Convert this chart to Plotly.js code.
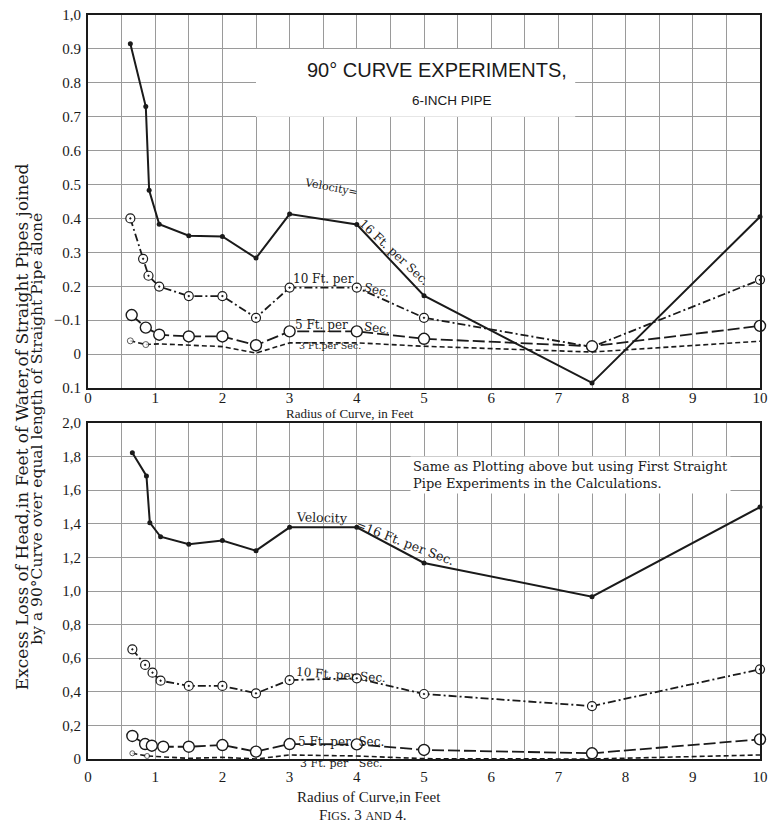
<!DOCTYPE html>
<html>
<head>
<meta charset="utf-8">
<script src="https://cdn.plot.ly/plotly-3.0.1.min.js"></script>
<style>html,body{margin:0;padding:0;background:#fff;}</style>
</head>
<body>
<div id="chart" style="width:771px;height:827px;"></div>
<script>
// ---- Top chart (Fig. 3) ----
const xTop16 = [0.63, 0.86, 0.91, 1.06, 1.5, 2, 2.5, 3, 4, 5, 7.5, 10];
const yTop16 = [0.915, 0.73, 0.483, 0.383, 0.349, 0.347, 0.283, 0.413, 0.382, 0.172, -0.085, 0.405];
const xTop10 = [0.63, 0.82, 0.9, 1.06, 1.5, 2, 2.5, 3, 4, 5, 7.5, 10];
const yTop10 = [0.40, 0.281, 0.231, 0.199, 0.171, 0.171, 0.107, 0.196, 0.196, 0.107, 0.021, 0.219];
const xTop5 = [0.65, 0.86, 1.06, 1.5, 2, 2.5, 3, 4, 5, 7.5, 10];
const yTop5 = [0.115, 0.078, 0.057, 0.052, 0.052, 0.026, 0.067, 0.067, 0.045, 0.023, 0.083];
const xTop3 = [0.63, 0.86, 1.06, 2, 2.5, 3, 4, 5, 7.5, 10];
const yTop3 = [0.039, 0.028, 0.03, 0.022, 0.003, 0.033, 0.033, 0.023, 0.006, 0.038];

// ---- Bottom chart (Fig. 4) ----
const xBot16 = [0.66, 0.87, 0.92, 1.08, 1.5, 2, 2.5, 3, 4, 5, 7.5, 10];
const yBot16 = [1.823, 1.685, 1.407, 1.323, 1.278, 1.30, 1.24, 1.379, 1.379, 1.167, 0.966, 1.5];
const xBot10 = [0.66, 0.85, 0.96, 1.08, 1.5, 2, 2.5, 3, 4, 5, 7.5, 10];
const yBot10 = [0.653, 0.56, 0.514, 0.466, 0.435, 0.435, 0.391, 0.47, 0.48, 0.387, 0.315, 0.534];
const xBot5 = [0.66, 0.85, 0.95, 1.12, 1.5, 2, 2.5, 3, 4, 5, 7.5, 10];
const yBot5 = [0.137, 0.089, 0.079, 0.073, 0.073, 0.083, 0.044, 0.089, 0.087, 0.054, 0.034, 0.117];
const xBot3 = [0.66, 0.88, 1.5, 2, 2.5, 3, 4, 5, 7.5, 10];
const yBot3 = [0.034, 0.018, 0.004, 0.01, 0.0, 0.024, 0.018, 0.002, 0.0, 0.024];

const xTickVals = [0,1,2,3,4,5,6,7,8,9,10];
const xTickText = ["0","1","2","3","4","5","6","7","8","9","10"];
const yTopTickVals = [-0.1,0,0.1,0.2,0.3,0.4,0.5,0.6,0.7,0.8,0.9,1.0];
const yTopTickText = ["0.1","0","\u22120.1","0.2","0.3","0.4","0.5","0.6","0.7","0.8","0.9","1,0"];
const yBotTickVals = [0,0.2,0.4,0.6,0.8,1.0,1.2,1.4,1.6,1.8,2.0];
const yBotTickText = ["0","0,2","0,4","0,6","0,8","1,0","1,2","1,4","1,6","1,8","2,0"];

const SERIF = "Liberation Serif, DejaVu Serif, serif";
const WIDE = "DejaVu Serif, Liberation Serif, serif";
const SANS = "Liberation Sans, Arial, sans-serif";
const INK = "#1a1a1a";

function series(x, y, xa, ya, dash, width, marker) {
  return {x: x, y: y, xaxis: xa, yaxis: ya, type: "scatter", mode: "lines+markers",
    line: {color: INK, width: width, dash: dash}, marker: marker, cliponaxis: false,
    hoverinfo: "skip", showlegend: false};
}
const mk16 = {symbol: "circle", size: 5, color: INK};
const mk10 = {symbol: "circle-dot", size: 9, color: "#fff", line: {color: INK, width: 1.2}};
const mk5 = {symbol: "circle", size: 11, color: "#fff", line: {color: INK, width: 1.4}};
const mk3t = {symbol: "circle", size: xTop3.map((v,i)=> i<2 ? 6 : 0), color: "#fff", line: {color: INK, width: 1}};
const mk3b = {symbol: "circle", size: xBot3.map((v,i)=> i<2 ? 5 : 0), color: "#fff", line: {color: INK, width: 1}};

const traces = [
  series(xTop16, yTop16, "x", "y", "solid", 2, mk16),
  series(xTop10, yTop10, "x", "y", "8px,3px,2px,3px", 1.8, mk10),
  series(xTop5, yTop5, "x", "y", "12px,4px", 1.8, mk5),
  series(xTop3, yTop3, "x", "y", "5px,3px", 1.6, mk3t),
  series(xBot16, yBot16, "x2", "y2", "solid", 2, mk16),
  series(xBot10, yBot10, "x2", "y2", "8px,3px,2px,3px", 1.8, mk10),
  series(xBot5, yBot5, "x2", "y2", "12px,4px", 1.8, mk5),
  series(xBot3, yBot3, "x2", "y2", "5px,3px", 1.6, mk3b)
];

const gridCol = "#9a9a9a";
function xAxis(anchor, standoff) {
  return {range: [0, 10], anchor: anchor, tickvals: xTickVals, ticktext: xTickText,
    showgrid: true, gridcolor: gridCol, gridwidth: 1,
    minor: {dtick: 0.5, tick0: 0, showgrid: true, gridcolor: gridCol, gridwidth: 1, ticklen: 0},
    showline: true, mirror: true, linecolor: INK, linewidth: 2, ticks: "", zeroline: false,
    ticklabelstandoff: standoff,
    tickfont: {family: SERIF, size: 15, color: INK}, fixedrange: true};
}
function yAxis(anchor, domain, range, tv, tt) {
  return {range: range, anchor: anchor, domain: domain, tickvals: tv, ticktext: tt,
    showgrid: true, gridcolor: gridCol, gridwidth: 1,
    showline: true, mirror: true, linecolor: INK, linewidth: 2, ticks: "", zeroline: false,
    tickfont: {family: SERIF, size: 15, color: INK}, fixedrange: true, ticklabelstandoff: 2};
}

const ann = (x, y, text, opts) => Object.assign({x: x, y: y, text: text, showarrow: false,
  xanchor: "center", yanchor: "middle",
  font: {family: WIDE, size: 12, color: INK}}, opts || {});
const f = (size, fam) => ({family: fam || WIDE, size: size, color: INK});

const layout = {
  width: 771, height: 827,
  margin: {l: 88, r: 11, t: 15, b: 68},
  paper_bgcolor: "#fff", plot_bgcolor: "#fff",
  showlegend: false,
  xaxis: xAxis("y", -5),
  yaxis: yAxis("x", [0.4987, 1], [-0.1, 1.0], yTopTickVals, yTopTickText),
  xaxis2: xAxis("y2", 3),
  yaxis2: yAxis("x2", [0, 0.4516], [0, 2.0], yBotTickVals, yBotTickText),
  shapes: [
    {type: "rect", xref: "x", yref: "y", x0: 2.5, x1: 7.25, y0: 0.7, y1: 0.9,
     fillcolor: "#fff", line: {width: 0}, layer: "between"}
  ],
  annotations: [
    // title box
    ann(5.2, 0.837, "90\u00B0 CURVE EXPERIMENTS,", {xref: "x", yref: "y", font: f(20, SANS)}),
    ann(5.42, 0.748, "6-INCH PIPE", {xref: "x", yref: "y", font: f(13.5, SANS)}),
    // top series labels
    ann(3.62, 0.492, "Velocity=", {xref: "x", yref: "y", textangle: 11, font: f(11)}),
    ann(4.55, 0.30, "16 Ft. per Sec.", {xref: "x", yref: "y", textangle: 43, font: f(12)}),
    ann(3.5, 0.222, "10 Ft. per", {xref: "x", yref: "y", font: f(12)}),
    ann(4.3, 0.19, "Sec.", {xref: "x", yref: "y", textangle: 14, font: f(12)}),
    ann(3.48, 0.085, "5 Ft. per", {xref: "x", yref: "y", font: f(12)}),
    ann(4.3, 0.076, "Sec.", {xref: "x", yref: "y", textangle: 8, font: f(12)}),
    ann(3.6, 0.025, "3 Ft.per Sec.", {xref: "x", yref: "y", font: f(9.5)}),
    // top x title
    ann(0.39, 0.4645, "Radius of Curve, in Feet", {xref: "paper", yref: "paper", font: f(13, SERIF)}),
    // bottom series labels
    ann(3.48, 1.44, "Velocity", {xref: "x2", yref: "y2", textangle: 2, font: f(12.5)}),
    ann(4.72, 1.29, "=16 Ft. per Sec.", {xref: "x2", yref: "y2", textangle: 21, font: f(12.5)}),
    ann(3.77, 0.50, "10 Ft. per Sec.", {xref: "x2", yref: "y2", textangle: 4, font: f(12)}),
    ann(3.77, 0.104, "5 Ft. per  Sec.", {xref: "x2", yref: "y2", font: f(12)}),
    ann(0.377, -0.0055, "3 Ft. per   Sec.", {xref: "paper", yref: "paper", font: f(11)}),
    ann(4.79, 1.69, "Same as Plotting above but using First Straight<br>Pipe Experiments in the Calculations.",
      {xref: "x2", yref: "y2", xanchor: "left", align: "left", bgcolor: "#fff", borderpad: 2, font: f(13)}),
    // bottom x title and fig caption
    ann(0.418, -0.051, "Radius of Curve,in Feet", {xref: "paper", yref: "paper", font: f(15, SERIF)}),
    ann(0.408, -0.075, "F<span style=\"font-size:12px\">IGS</span>. 3 <span style=\"font-size:12px\">AND</span> 4.",
      {xref: "paper", yref: "paper", font: f(15, SERIF)}),
    // y axis title (two lines)
    ann(-0.0982, 0.446, "Excess Loss of Head,in Feet of Water,of Straight Pipes joined",
      {xref: "paper", yref: "paper", textangle: -90, font: f(17)}),
    ann(-0.0759, 0.444, "by a 90\u00B0Curve over equal length of Straight Pipe alone",
      {xref: "paper", yref: "paper", textangle: -90, font: f(15.5)})
  ]
};

Plotly.newPlot("chart", traces, layout, {staticPlot: true, displayModeBar: false});
</script>
</body>
</html>
